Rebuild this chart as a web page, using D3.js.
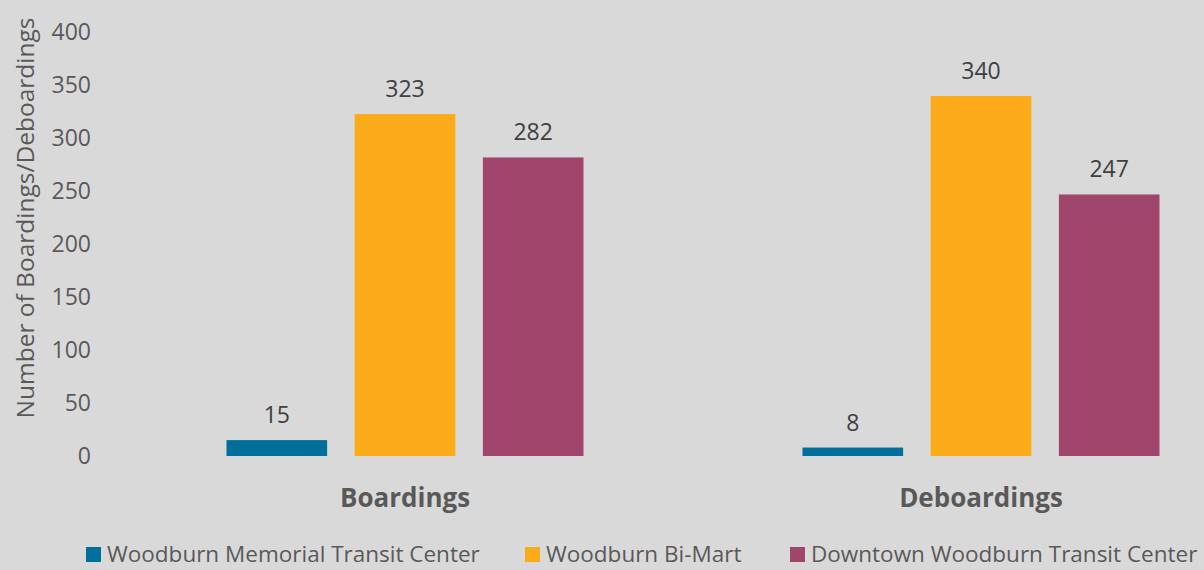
<!DOCTYPE html>
<html>
<head>
<meta charset="utf-8">
<script src="https://cdn.jsdelivr.net/npm/d3@7/dist/d3.min.js"></script>
<style>
  html, body { margin: 0; padding: 0; background: #d9d9d9; }
  svg { display: block; font-family: "Open Sans", "Noto Sans", sans-serif; }
</style>
</head>
<body>
<svg id="chart" width="1204" height="570"></svg>
<script>
// Categories, series and their values
const categories = ["Boardings", "Deboardings"];
const seriesNames = ["Woodburn Memorial Transit Center", "Woodburn Bi-Mart", "Downtown Woodburn Transit Center"];
const memorialValues = [15, 8];
const biMartValues = [323, 340];
const downtownValues = [282, 247];
const yTicks = [0, 50, 100, 150, 200, 250, 300, 350, 400];
const seriesColors = ["#006f9b", "#fbab19", "#a0466c"];

const seriesValues = [memorialValues, biMartValues, downtownValues];

const W = 1204, H = 570;
const svg = d3.select("#chart");
svg.append("rect").attr("width", W).attr("height", H).attr("fill", "#d9d9d9");

const y = d3.scaleLinear().domain([0, 400]).range([456, 32.5]);

const x0 = d3.scaleBand().domain(categories).range([117, 1269]).paddingInner(0).paddingOuter(0);
const groupWidth = 357;
const x1 = d3.scaleBand().domain(seriesNames).range([0, groupWidth]).paddingInner(0.215).paddingOuter(0);

// Y axis labels
const yAxis = d3.axisLeft(y).tickValues(yTicks).tickSize(0).tickPadding(0);
const gy = svg.append("g").attr("transform", "translate(91,0)").call(yAxis);
gy.select(".domain").remove();
gy.selectAll("text")
  .attr("fill", "#595959")
  .attr("font-size", 23)
  .attr("font-family", "'Open Sans', sans-serif");

// Y axis title
svg.append("text")
  .attr("transform", "translate(34,218) rotate(-90)")
  .attr("text-anchor", "middle")
  .attr("fill", "#595959")
  .attr("font-size", 24.5)
  .text("Number of Boardings/Deboardings");

// Bars and value labels
const groups = svg.append("g").selectAll("g")
  .data(categories)
  .join("g")
  .attr("transform", d => `translate(${x0(d) + (x0.bandwidth() - groupWidth) / 2},0)`);

groups.each(function(cat, ci) {
  const g = d3.select(this);
  seriesNames.forEach((s, si) => {
    const v = seriesValues[si][ci];
    g.append("rect")
      .attr("x", x1(s))
      .attr("y", y(v))
      .attr("width", x1.bandwidth())
      .attr("height", y(0) - y(v))
      .attr("fill", seriesColors[si]);
    g.append("text")
      .attr("x", x1(s) + x1.bandwidth() / 2)
      .attr("y", y(v) - 17)
      .attr("text-anchor", "middle")
      .attr("fill", "#404040")
      .attr("font-size", 23)
      .text(v);
  });
});

// Category labels
const xAxis = d3.axisBottom(x0).tickSize(0).tickPadding(0);
const gx = svg.append("g").attr("transform", "translate(0,507)").call(xAxis);
gx.select(".domain").remove();
gx.selectAll("text")
  .attr("fill", "#595959")
  .attr("font-size", 26)
  .attr("font-weight", "bold")
  .attr("font-family", "'Open Sans', sans-serif")
  .attr("dy", 0);

// Legend
const legendX = [86, 525, 790];
const legend = svg.append("g").selectAll("g")
  .data(seriesNames)
  .join("g")
  .attr("transform", (d, i) => `translate(${legendX[i]},562)`);
legend.append("rect")
  .attr("x", 0).attr("y", -15).attr("width", 15).attr("height", 15)
  .attr("fill", (d, i) => seriesColors[i]);
legend.append("text")
  .attr("x", 21).attr("y", 0)
  .attr("fill", "#595959")
  .attr("font-size", 22.5)
  .text(d => d);
</script>
</body>
</html>
